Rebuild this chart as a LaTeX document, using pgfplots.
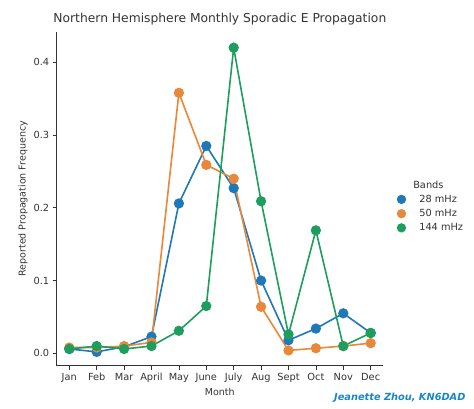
\documentclass[border=0pt]{standalone}
\usepackage{pgfplots}
\pgfplotsset{compat=1.18}
\usepackage{fontspec}
\setmainfont{DejaVu Sans}
\definecolor{cbblue}{HTML}{1F78B8}
\definecolor{cborange}{HTML}{E8883A}
\definecolor{cbgreen}{HTML}{1E9E5E}
\definecolor{txt}{HTML}{333333}
\definecolor{wm}{HTML}{1A86C8}
\begin{document}
\begin{tikzpicture}
\useasboundingbox (0,0) rectangle (474pt,408pt);
\begin{axis}[
  at={(56.7pt,42.3pt)}, anchor=south west,
  scale only axis, width=326.3pt, height=334pt,
  xmin=-0.46, xmax=11.45, ymin=-0.017, ymax=0.442,
  axis lines=left, axis line style={-, draw=txt, line width=0.8pt},
  xtick={0,...,11},
  xticklabels={Jan,Feb,Mar,April,May,June,July,Aug,Sept,Oct,Nov,Dec},
  ytick={0,0.1,0.2,0.3,0.4},
  yticklabel style={/pgf/number format/.cd,fixed,fixed zerofill,precision=1},
  /pgf/number format/assume math mode=true,
  tick align=outside, major tick length=4pt, tick style={draw=txt, line width=0.7pt},
  ticklabel style={font=\fontsize{9.8}{11}\selectfont, text=txt},
  xticklabel style={inner xsep=0pt},
  xlabel={Month}, ylabel={Reported Propagation Frequency},
  label style={font=\fontsize{9.5}{11}\selectfont, text=txt},
  xlabel style={yshift=1pt},
  ylabel style={yshift=-1pt},
  title={Northern Hemisphere Monthly Sporadic E Propagation},
  title style={font=\fontsize{12.3}{14}\selectfont, text=txt, yshift=-3pt},
  legend style={at={(1.025,0.477)}, anchor=west, draw=none, fill=none,
    font=\fontsize{9.8}{11}\selectfont, text=txt, row sep=1.5pt},
  legend cell align=left,
  legend image code/.code={\draw[#1, mark size=3.8pt] plot coordinates {(0.25cm,0cm)};},
  every axis plot/.append style={line width=1.6pt, mark=*, mark size=4.3pt},
  clip=false,
]
\addlegendimage{empty legend}
\addlegendentry{\hspace{6pt}Bands}
\addplot[cbblue, mark options={fill=cbblue, draw=cbblue}] coordinates {
(0,0.006)(1,0.002)(2,0.009)(3,0.023)(4,0.206)(5,0.285)(6,0.227)(7,0.100)(8,0.018)(9,0.034)(10,0.055)(11,0.028)};
\addlegendentry{\hspace{12pt}28 mHz}
\addplot[cborange, mark options={fill=cborange, draw=cborange}] coordinates {
(0,0.008)(1,0.008)(2,0.010)(3,0.015)(4,0.358)(5,0.259)(6,0.240)(7,0.064)(8,0.004)(9,0.007)(10,0.010)(11,0.014)};
\addlegendentry{\hspace{12pt}50 mHz}
\addplot[cbgreen, mark options={fill=cbgreen, draw=cbgreen}] coordinates {
(0,0.006)(1,0.010)(2,0.006)(3,0.010)(4,0.031)(5,0.065)(6,0.420)(7,0.209)(8,0.026)(9,0.169)(10,0.010)(11,0.028)};
\addlegendentry{\hspace{12pt}144 mHz}
\end{axis}
\node[anchor=east, font=\fontsize{9.8}{11}\selectfont\bfseries\itshape, text=wm] at (469pt,10pt) {Jeanette Zhou, KN6DAD};
\end{tikzpicture}
\end{document}
